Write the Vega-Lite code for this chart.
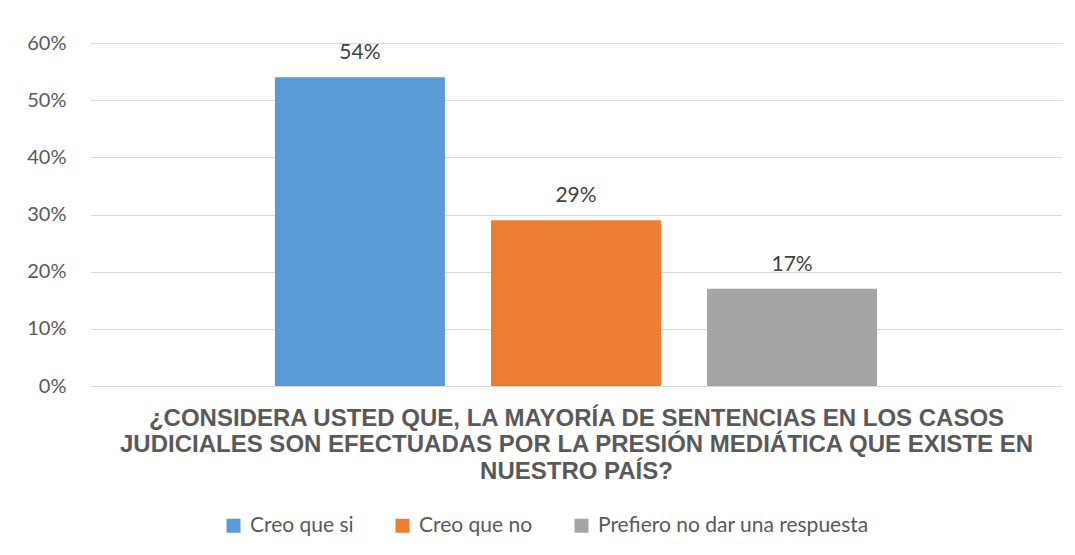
{
  "$schema": "https://vega.github.io/schema/vega-lite/v6.json",
  "width": 972,
  "height": 343,
  "autosize": "none",
  "padding": {"left": 90, "top": 43, "right": 13, "bottom": 169},
  "background": "white",
  "data": {"values": [
    {"respuesta": "Creo que si", "valor": 0.54, "etiqueta": "54%"},
    {"respuesta": "Creo que no", "valor": 0.29, "etiqueta": "29%"},
    {"respuesta": "Prefiero no  dar una respuesta", "valor": 0.17, "etiqueta": "17%"}
  ]},
  "encoding": {
    "x": {
      "field": "respuesta", "type": "nominal", "sort": null,
      "scale": {"paddingInner": 0.213, "paddingOuter": 0.856},
      "axis": {
        "labels": false, "ticks": false, "domain": false,
        "title": ["¿CONSIDERA USTED QUE, LA MAYORÍA DE SENTENCIAS EN LOS CASOS", "JUDICIALES SON EFECTUADAS POR LA PRESIÓN MEDIÁTICA QUE EXISTE EN", "NUESTRO PAÍS?"],
        "titleFont": "Liberation Sans", "titleFontSize": 24, "titleFontWeight": "bold",
        "titleColor": "#595959", "titlePadding": 20, "titleLineHeight": 26.5
      }
    },
    "y": {
      "field": "valor", "type": "quantitative",
      "scale": {"domain": [0, 0.6]},
      "axis": {
        "format": ".0%", "values": [0, 0.1, 0.2, 0.3, 0.4, 0.5, 0.6], "labelOverlap": false,
        "title": null, "domain": false, "ticks": false,
        "labelPadding": 24, "labelFont": "Lato", "labelFontSize": 20, "labelColor": "#595959",
        "gridColor": "#D9D9D9", "gridWidth": 1.2
      }
    }
  },
  "layer": [
    {
      "mark": {"type": "bar"},
      "encoding": {
        "color": {
          "field": "respuesta", "type": "nominal", "sort": null,
          "scale": {"range": ["#5B9BD5", "#ED7D31", "#A5A5A5"]},
          "legend": {
            "title": null, "orient": "none", "direction": "horizontal",
            "legendX": 133, "legendY": 472,
            "symbolType": "square", "symbolSize": 196, "symbolStrokeWidth": 0,
            "labelFont": "Lato", "labelFontSize": 21, "labelColor": "#595959",
            "labelOffset": 6, "columnPadding": 38, "labelLimit": 400
          }
        }
      }
    },
    {
      "mark": {"type": "text", "baseline": "alphabetic", "dy": -18, "font": "Lato", "fontSize": 21, "color": "#404040"},
      "encoding": {
        "text": {"field": "etiqueta"}
      }
    }
  ],
  "config": {"view": {"stroke": null}}
}
